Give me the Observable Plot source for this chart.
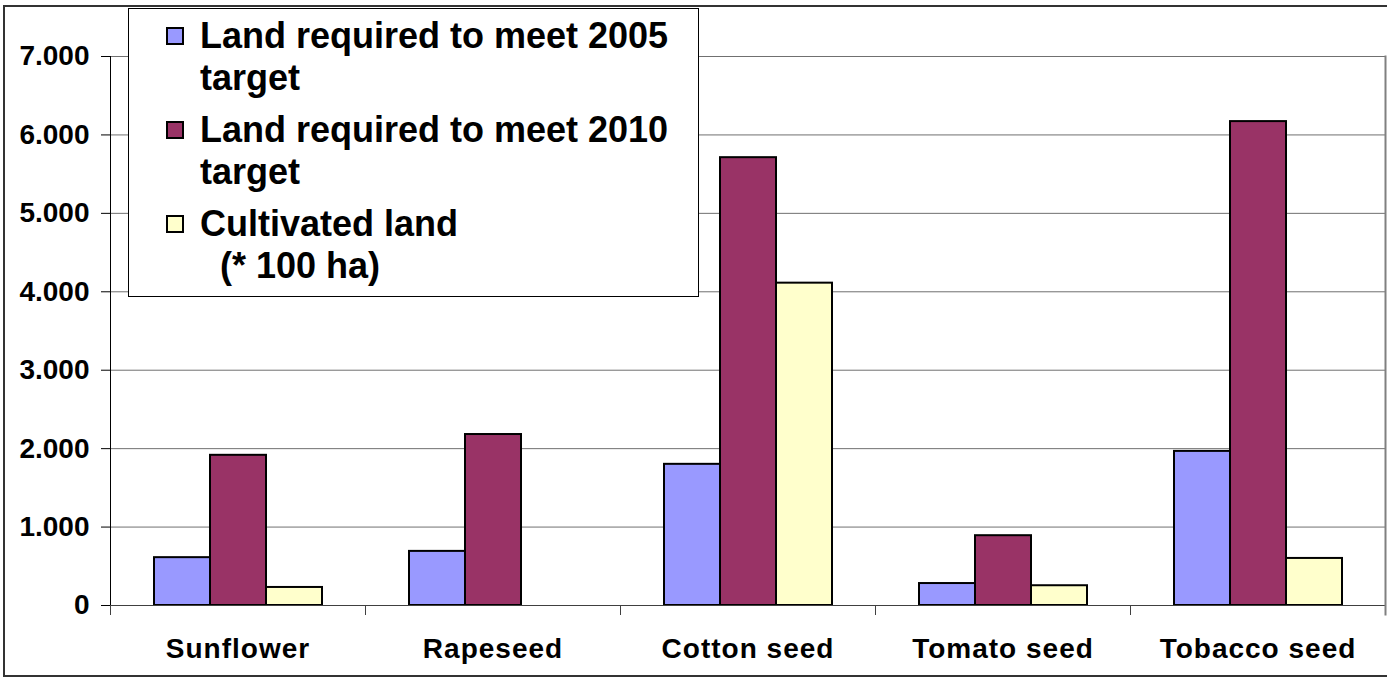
<!DOCTYPE html>
<html>
<head>
<meta charset="utf-8">
<script src="https://cdn.jsdelivr.net/npm/d3@7"></script>
<script src="https://cdn.jsdelivr.net/npm/@observablehq/plot@0.6"></script>
<style>
html, body { margin: 0; padding: 0; background: #fff; overflow: hidden; }
#wrap { position: relative; width: 1387px; height: 677px; font-family: "Liberation Sans", Arial, sans-serif; }
#wrap svg { position: absolute; left: 0; top: 0; }
#border { position: absolute; left: 3px; top: 5px; width: 1392px; height: 672px; border: 2px solid #333; box-sizing: border-box; pointer-events: none; }
#legend { position: absolute; left: 128px; top: 8px; width: 571px; height: 289px; border: 1px solid #000; background: #fff; box-sizing: border-box; padding-top: 6px; display: flex; flex-direction: column; gap: 10px; }
.item { position: relative; height: 84px; }
.sw { position: absolute; left: 37px; top: 12px; width: 18px; height: 18px; border: 2px solid #000; box-sizing: border-box; }
.lab { position: absolute; left: 71px; top: 0; width: 490px; font-size: 36px; font-weight: bold; line-height: 42px; white-space: pre-wrap; color: #000; }
g[aria-label="fx-axis tick label"] text { letter-spacing: 1px; }
</style>
</head>
<body>
<div id="wrap"></div>
<script>
// ---- data ----
const categories = ["Sunflower", "Rapeseed", "Cotton seed", "Tomato seed", "Tobacco seed"];
const seriesNames = ["Land required to meet 2005 target", "Land required to meet 2010 target", "Cultivated land (* 100 ha)"];
const legendLabels = ["Land required to meet 2005\ntarget", "Land required to meet 2010\ntarget", "Cultivated land\n  (* 100 ha)"];
const target2005 = [610, 690, 1800, 280, 1965];
const target2010 = [1915, 2180, 5710, 890, 6170];
const cultivated = [230, 0, 4110, 252, 600];
const seriesColors = ["#9999FF", "#993366", "#FFFFCC"];
const yTicks = [0, 1000, 2000, 3000, 4000, 5000, 6000, 7000];

const seriesValues = [target2005, target2010, cultivated];
const data = categories.flatMap((c, i) =>
  seriesNames.map((s, j) => ({category: c, series: s, value: seriesValues[j][i]}))
);

const W = 1387, H = 677, mt = 56, mb = 72, ml = 109, mr = 2;
const locale = d3.formatLocale({decimal: ",", thousands: ".", grouping: [3], currency: ["", ""]});
const fmt = locale.format(",d");

const chart = Plot.plot({
  width: W, height: H,
  marginTop: mt, marginBottom: mb, marginLeft: ml, marginRight: mr,
  style: {fontFamily: "'Liberation Sans', Arial, sans-serif", fontWeight: "bold", color: "#000", background: "transparent", overflow: "visible"},
  fx: {domain: categories, padding: 0, label: null},
  x: {domain: seriesNames, paddingInner: 0, paddingOuter: 0.76, axis: null},
  y: {domain: [0, 7000], label: null},
  color: {domain: seriesNames, range: seriesColors},
  marks: [
    Plot.gridY(yTicks, {stroke: "#707070", strokeOpacity: 1}),
    Plot.barY(data, {fx: "category", x: "series", y: "value", fill: "series", stroke: "#000", strokeWidth: 2, filter: d => d.value > 0}),
    Plot.ruleY([0], {stroke: "#404040"}),
    Plot.frame({anchor: "left", facetAnchor: "left", stroke: "#000"}),
    Plot.frame({anchor: "left", stroke: "#404040", insetTop: H - mt - mb, insetBottom: -9}),
    Plot.frame({anchor: "right", facetAnchor: "right", stroke: "#808080", strokeWidth: 2, insetBottom: -9}),
    Plot.axisY(yTicks, {tickSize: 9, tickPadding: 12, tickFormat: fmt, fontSize: 28, fontWeight: "bold", label: null, stroke: "#000"}),
    Plot.axisFx({anchor: "bottom", tickSize: 0, tickPadding: 33, fontSize: 28, fontWeight: "bold", label: null})
  ]
});

const wrap = document.getElementById("wrap");
wrap.appendChild(chart);

const border = document.createElement("div");
border.id = "border";
wrap.appendChild(border);

const legend = document.createElement("div");
legend.id = "legend";
legendLabels.forEach((lab, i) => {
  const item = document.createElement("div");
  item.className = "item";
  const sw = document.createElement("div");
  sw.className = "sw";
  sw.style.background = seriesColors[i];
  const t = document.createElement("div");
  t.className = "lab";
  t.textContent = lab;
  item.appendChild(sw);
  item.appendChild(t);
  legend.appendChild(item);
});
wrap.appendChild(legend);
</script>
</body>
</html>
